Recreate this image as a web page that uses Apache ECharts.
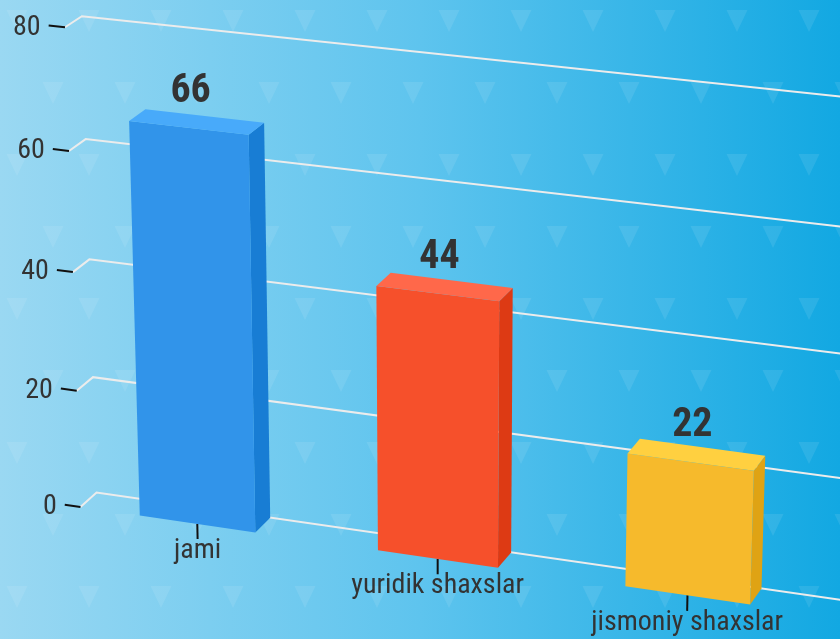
<!DOCTYPE html>
<html>
<head>
<meta charset="utf-8">
<script src="https://cdn.jsdelivr.net/npm/echarts@6/dist/echarts.min.js"></script>
<style>
html, body { margin: 0; padding: 0; }
#main { width: 840px; height: 639px; }
</style>
</head>
<body>
<div id="main"></div>
<script>
var categories = ['jami', 'yuridik shaxslar', 'jismoniy shaxslar'];
var values = [66, 44, 22];
var yTicks = [0, 20, 40, 60, 80];

var barColors = [
    { front: '#3194ea', top: '#48aafa', side: '#187dd4' },
    { front: '#f6502b', top: '#ff684a', side: '#dd3a14' },
    { front: '#f6ba2c', top: '#ffd040', side: '#dfa314' }
];

var FONT = "'Roboto Condensed', 'Liberation Sans Narrow', 'DejaVu Sans Condensed', sans-serif";

// 3d view
var ALPHA = 20.5, BETA = 19.8, DEPTH = 41, VD = 4300, CX = 444.5, CY = 311.5;
var sa = Math.sin(ALPHA * Math.PI / 180), ca = Math.cos(ALPHA * Math.PI / 180);
var sb = Math.sin(BETA * Math.PI / 180), cb = Math.cos(BETA * Math.PI / 180);

// flat plot pixel -> screen point
function proj(cs, px, py, z) {
    var X = px - (cs.x + cs.width / 2);
    var Y = (cs.y + cs.height / 2) - py;
    var zr = z - DEPTH / 2;
    var x1 = X * cb + zr * sb;
    var z1 = -X * sb + zr * cb;
    var y2 = Y * ca + z1 * sa;
    var z2 = -Y * sa + z1 * ca;
    var s = VD / (VD + z2);
    return [CX + s * x1, CY - s * y2];
}

// tile for the background triangles
var tile = document.createElement('canvas');
tile.width = 72;
tile.height = 144;
var tc = tile.getContext('2d');
tc.fillStyle = 'rgba(255,255,255,0.09)';
[[17, 10], [53, 82]].forEach(function (p) {
    tc.beginPath();
    tc.moveTo(p[0] - 10.5, p[1]);
    tc.lineTo(p[0] + 10.5, p[1]);
    tc.lineTo(p[0], p[1] + 22);
    tc.closePath();
    tc.fill();
});

function renderGrid(params, api) {
    var cs = params.coordSys;
    var py = api.coord([0, api.value(1)])[1];
    var left = cs.x, right = cs.x + cs.width + 40;
    var t0 = proj(cs, left - 18, py, 0);
    var f = proj(cs, left, py, 0);
    var b = proj(cs, left, py, DEPTH);
    var r = proj(cs, right, py, DEPTH);
    return {
        type: 'group',
        children: [{
            type: 'polyline',
            shape: { points: [f, b, r] },
            style: { stroke: '#ececec', lineWidth: 2, fill: null }
        }, {
            type: 'line',
            shape: { x1: t0[0], y1: t0[1], x2: f[0], y2: f[1] },
            style: { stroke: '#111', lineWidth: 2 }
        }, {
            type: 'text',
            x: t0[0] - 8,
            y: t0[1] + 2,
            style: {
                text: String(api.value(1)), fill: '#333', font: '28px ' + FONT,
                textAlign: 'right', textVerticalAlign: 'middle'
            }
        }]
    };
}

function renderCat(params, api) {
    var cs = params.coordSys;
    var i = api.value(0);
    var p = api.coord([i, 0]);
    var a = proj(cs, p[0], p[1], 0);
    var b = proj(cs, p[0], p[1] + 17, 0);
    return {
        type: 'group',
        children: [{
            type: 'line',
            shape: { x1: a[0], y1: a[1], x2: b[0], y2: b[1] },
            style: { stroke: '#111', lineWidth: 2 }
        }, {
            type: 'text',
            x: b[0],
            y: b[1] - 2,
            style: {
                text: categories[i], fill: '#333', font: '28px ' + FONT,
                textAlign: 'center', textVerticalAlign: 'top'
            }
        }]
    };
}

function renderBar(params, api) {
    var cs = params.coordSys;
    var i = api.value(0);
    var top = api.coord([i, api.value(1)]);
    var base = api.coord([i, 0]);
    var w = api.size([1, 0])[0] * 0.49;
    var x0 = top[0] - w / 2, x1 = top[0] + w / 2;
    var c = barColors[i];
    var fbl = proj(cs, x0, base[1], 0), fbr = proj(cs, x1, base[1], 0);
    var ftl = proj(cs, x0, top[1], 0), ftr = proj(cs, x1, top[1], 0);
    var bbr = proj(cs, x1, base[1], DEPTH);
    var btl = proj(cs, x0, top[1], DEPTH), btr = proj(cs, x1, top[1], DEPTH);
    var lab = proj(cs, top[0], top[1], 0);
    return {
        type: 'group',
        children: [{
            type: 'polygon',
            shape: { points: [fbr, bbr, btr, ftr] },
            style: { fill: c.side }
        }, {
            type: 'polygon',
            shape: { points: [fbl, fbr, ftr, ftl] },
            style: { fill: c.front }
        }, {
            type: 'polygon',
            shape: { points: [ftl, ftr, btr, btl] },
            style: { fill: c.top }
        }, {
            type: 'text',
            x: lab[0] + 2,
            y: lab[1] - 36,
            style: {
                text: String(api.value(1)), fill: '#333', font: 'bold 40px ' + FONT,
                textAlign: 'center', textVerticalAlign: 'middle'
            }
        }]
    };
}

var chart = echarts.init(document.getElementById('main'));
chart.setOption({
    animation: false,
    backgroundColor: new echarts.graphic.LinearGradient(0, 0, 1, 0, [
        { offset: 0, color: '#9ad8f2' },
        { offset: 0.5, color: '#5ec4ee' },
        { offset: 1, color: '#12a8e2' }
    ]),
    graphic: [{
        type: 'rect',
        silent: true,
        z: -1,
        shape: { x: 0, y: 0, width: 840, height: 639 },
        style: { fill: { image: tile, repeat: 'repeat' } }
    }],
    grid: { left: 20, top: 60, width: 795, height: 523 },
    xAxis: { type: 'category', data: categories, show: false },
    yAxis: { type: 'value', min: 0, max: 80, interval: 20, show: false },
    series: [{
        type: 'custom',
        renderItem: renderGrid,
        data: yTicks.map(function (v) { return [0, v]; }),
        z: 1
    }, {
        type: 'custom',
        renderItem: renderCat,
        data: categories.map(function (c, i) { return [i, 0]; }),
        z: 2
    }, {
        type: 'custom',
        renderItem: renderBar,
        data: values.map(function (v, i) { return [i, v]; }),
        z: 3
    }]
});
</script>
</body>
</html>
